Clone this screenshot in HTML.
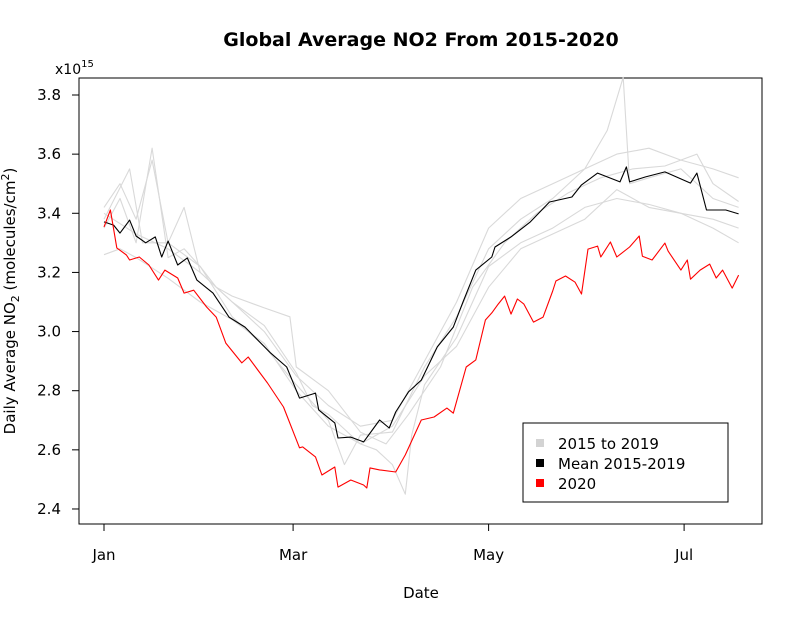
<!DOCTYPE html>
<html><head><meta charset="utf-8"><style>
body{margin:0;background:#fff}
svg{display:block;font-family:"DejaVu Sans","Liberation Sans",sans-serif}
</style></head><body>
<svg id="chart" width="803" height="623" xmlns="http://www.w3.org/2000/svg">
<text x="421" y="46" text-anchor="middle" font-size="19" font-weight="bold">Global Average NO2 From 2015-2020</text>
<text x="55" y="74" font-size="14">x10<tspan dy="-7" font-size="10">15</tspan></text>
<rect x="79" y="78" width="683" height="446" fill="none" stroke="#000"/>
<g id="yaxis"></g>
<g id="xaxis"></g>
<g id="series"></g>
<text x="421" y="598" text-anchor="middle" font-size="15">Date</text>
<text transform="translate(15,301) rotate(-90)" text-anchor="middle" font-size="15">Daily Average NO<tspan dy="4" font-size="11">2</tspan><tspan dy="-4"> (molecules/cm</tspan><tspan dy="-6" font-size="11">2</tspan><tspan dy="6">)</tspan></text>
<g>
<rect x="523" y="423" width="205" height="79" fill="#fff" stroke="#000"/>
<rect x="536" y="439" width="8" height="8" fill="#d3d3d3"/>
<text x="558" y="449" font-size="15">2015 to 2019</text>
<rect x="536" y="459" width="8" height="8" fill="#000"/>
<text x="558" y="469" font-size="15">Mean 2015-2019</text>
<rect x="536" y="479" width="8" height="8" fill="#f00"/>
<text x="558" y="489" font-size="15">2020</text>
</g>
</svg>
<script>
const yTicks=[2.4,2.6,2.8,3.0,3.2,3.4,3.6,3.8];
const xTickDays=[0,59,120,181];
const xTickLabels=["Jan","Mar","May","Jul"];
const meanDays=[0,3,5,8,10,13,16,18,20,23,26,29,34,39,44,47,52,57,61,66,67,72,73,77,81,86,89,91,95,99,104,109,112,116,121,122,127,133,139,146,149,154,161,163,164,169,175,183,185,188,194,198];
const meanVals=[3.371,3.360,3.333,3.377,3.323,3.300,3.320,3.252,3.306,3.225,3.249,3.174,3.130,3.049,3.015,2.982,2.927,2.880,2.775,2.792,2.735,2.691,2.640,2.643,2.627,2.701,2.674,2.728,2.796,2.836,2.948,3.015,3.100,3.208,3.252,3.286,3.320,3.371,3.438,3.455,3.496,3.536,3.506,3.557,3.506,3.523,3.540,3.502,3.536,3.411,3.411,3.398];
const y2020Days=[0,2,4,7,8,11,14,17,19,23,25,28,32,35,38,43,45,48,51,56,61,62,66,68,72,73,77,81,82,83,86,91,94,99,103,107,109,113,116,119,121,123,125,127,129,131,134,137,140,141,144,147,149,151,154,155,158,160,164,167,168,171,175,176,180,182,183,186,189,191,193,196,198];
const y2020Vals=[3.354,3.411,3.283,3.259,3.242,3.252,3.225,3.174,3.208,3.181,3.130,3.140,3.083,3.049,2.961,2.894,2.914,2.870,2.826,2.745,2.607,2.610,2.576,2.515,2.542,2.474,2.498,2.481,2.471,2.539,2.532,2.525,2.583,2.701,2.711,2.741,2.724,2.880,2.904,3.039,3.063,3.093,3.120,3.059,3.110,3.093,3.032,3.049,3.137,3.171,3.188,3.167,3.127,3.279,3.289,3.252,3.303,3.252,3.286,3.323,3.255,3.242,3.299,3.272,3.208,3.242,3.177,3.208,3.228,3.181,3.208,3.147,3.191];
const g1Days=[0,5,10,15,20,25,30,40,50,60,70,80,90,100,110,120,130,140,150,160,170,180,190,198];
const g1Vals=[3.42,3.50,3.38,3.58,3.30,3.42,3.20,3.10,3.00,2.85,2.75,2.68,2.70,2.90,3.10,3.35,3.45,3.50,3.55,3.60,3.62,3.58,3.55,3.52];
const g2Days=[0,5,10,15,20,25,30,40,50,60,70,75,80,90,100,110,120,130,140,150,157,162,164,170,180,190,198];
const g2Vals=[3.35,3.45,3.30,3.62,3.25,3.28,3.22,3.05,2.95,2.82,2.70,2.55,2.65,2.66,2.88,3.05,3.28,3.38,3.45,3.55,3.68,3.86,3.50,3.52,3.55,3.45,3.42];
const g3Days=[0,5,10,20,30,40,50,60,70,80,85,90,94,96,100,110,120,130,140,150,160,170,180,190,198];
const g3Vals=[3.26,3.28,3.25,3.18,3.10,3.04,2.96,2.80,2.68,2.62,2.60,2.55,2.45,2.65,2.82,2.98,3.22,3.30,3.35,3.42,3.45,3.43,3.40,3.35,3.30];
const g4Days=[0,8,12,20,30,35,40,50,58,60,70,80,88,95,105,115,125,135,145,155,165,175,185,190,198];
const g4Vals=[3.38,3.55,3.30,3.30,3.22,3.15,3.12,3.08,3.05,2.88,2.80,2.66,2.62,2.72,2.88,3.15,3.30,3.40,3.47,3.52,3.55,3.56,3.60,3.50,3.44];
const g5Days=[0,10,20,30,40,50,60,65,70,80,90,100,110,120,130,140,150,160,170,180,190,198];
const g5Vals=[3.40,3.33,3.28,3.20,3.10,3.02,2.86,2.75,2.72,2.62,2.68,2.85,2.95,3.15,3.28,3.33,3.38,3.48,3.42,3.40,3.38,3.35];

const NS="http://www.w3.org/2000/svg";
function xs(d){return 104+d*3.205;}
function ys(v){return 95+(3.8-v)*295.7;}
function mk(tag,attrs,parent){const e=document.createElementNS(NS,tag);for(const k in attrs)e.setAttribute(k,attrs[k]);parent.appendChild(e);return e;}
const ya=document.getElementById('yaxis'),xa=document.getElementById('xaxis'),sg=document.getElementById('series');
yTicks.forEach(v=>{
  const l=mk('line',{x1:72,x2:79,y1:ys(v),y2:ys(v),stroke:'#000'},ya);
  
  
  const t=mk('text',{x:61,y:ys(v)+5,'text-anchor':'end','font-size':15},ya);
  t.textContent=v.toFixed(1);
  
  
});
xTickDays.forEach((d,i)=>{
  const l=mk('line',{x1:xs(d),x2:xs(d),y1:524,y2:531,stroke:'#000'},xa);
  
  
  const t=mk('text',{x:xs(d),y:560,'text-anchor':'middle','font-size':15},xa);
  t.textContent=xTickLabels[i];
  
  
});
function line(days,vals,color,name){
  const p=days.map((d,i)=>xs(d).toFixed(1)+','+ys(vals[i]).toFixed(1)).join(' ');
  const e=mk('polyline',{points:p,fill:'none',stroke:color,'stroke-width':1.1,'stroke-linejoin':'round'},sg);
  
  
}
line(g1Days,g1Vals,'#d9d9d9','series-grey-1');
line(g2Days,g2Vals,'#d9d9d9','series-grey-2');
line(g3Days,g3Vals,'#d9d9d9','series-grey-3');
line(g4Days,g4Vals,'#d9d9d9','series-grey-4');
line(g5Days,g5Vals,'#d9d9d9','series-grey-5');
line(meanDays,meanVals,'#000','series-mean-2015-2019');
line(y2020Days,y2020Vals,'#f00','series-2020');
</script>
</body></html>
